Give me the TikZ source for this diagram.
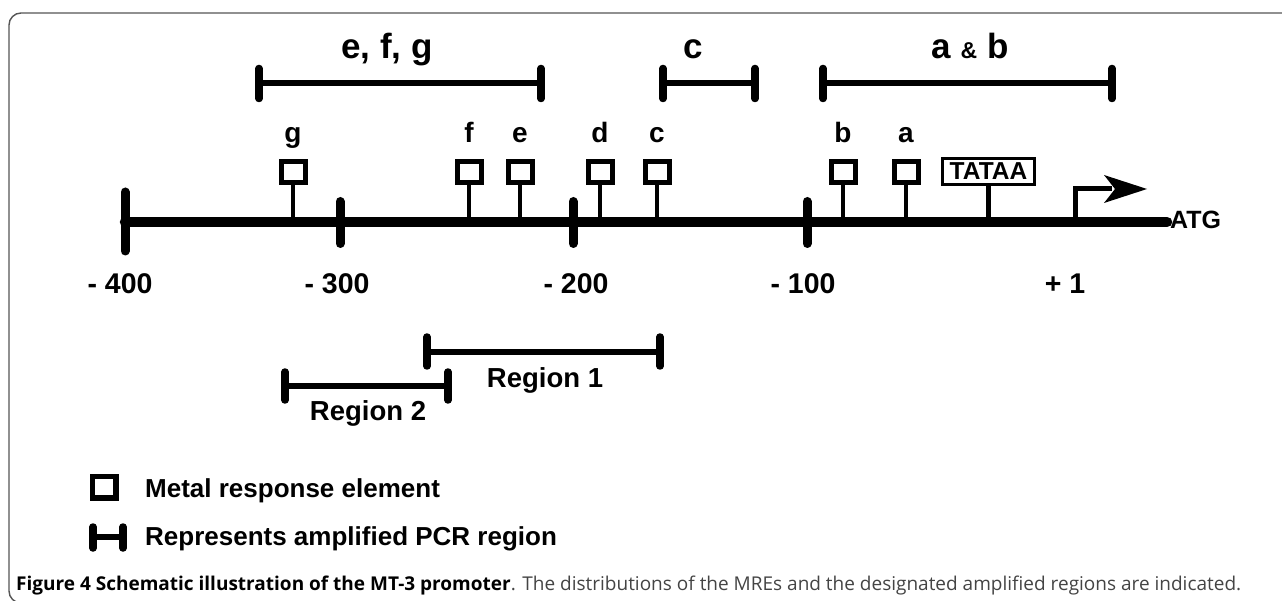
\documentclass[tikz,border=0pt]{standalone}
\usepackage{fontspec}
\setmainfont{Liberation Sans}
\newfontfamily\capfont{Open Sans}
\definecolor{framegray}{HTML}{555555}
\definecolor{captext}{HTML}{444444}

\begin{document}
\begin{tikzpicture}[x=1pt,y=-1pt,
  numlbl/.style={font=\bfseries\fontsize{28.5}{28.5}\selectfont, inner sep=0pt, anchor=base},
  reglbl/.style={font=\bfseries\fontsize{27.5}{27.5}\selectfont, inner sep=0pt, anchor=base},
  mrelbl/.style={font=\bfseries\fontsize{28}{28}\selectfont, inner sep=0pt, anchor=base},
  toplbl/.style={font=\bfseries\fontsize{35}{35}\selectfont, inner sep=0pt, anchor=base},
  leglbl/.style={font=\bfseries\fontsize{26}{26}\selectfont, inner sep=0pt, anchor=base west},
  dna/.style={line width=10.5pt, line cap=round},
  majortick/.style={line width=9pt, line cap=round},
  spanbar/.style={line width=6pt},
  spanend/.style={line width=7.5pt, line cap=round},
  mrebox/.style={draw, line width=5pt, minimum width=24pt, minimum height=21pt, inner sep=0pt},
  stem/.style={line width=4.5pt},
]
\useasboundingbox (0,0) rectangle (1282,601);

% panel frame
\begin{scope}
  \clip (0,0) rectangle (1282,601);
  \draw[line width=1.4pt, framegray, rounded corners=12pt] (9,13) rectangle (1330,603);
\end{scope}

% promoter line with position ticks
\coordinate (dnaL) at (125,222);
\coordinate (dnaR) at (1167,222);
\draw[dna] (dnaL) -- (dnaR);
\draw[majortick] (125,192) -- (125,251);
\foreach \x in {340,573,807}
  \draw[majortick] (\x,201.5) -- (\x,243.5);

% position numbers
\node[numlbl] (p400) at (120,294) {- 400};
\node[numlbl] (p300) at (337,294) {- 300};
\node[numlbl] (p200) at (576,294) {- 200};
\node[numlbl] (p100) at (803,294) {- 100};
\node[numlbl] (p1)   at (1065,294) {+ 1};

% metal response elements
\foreach \x/\n in {293/g,469/f,520/e,600/d,657/c,843/b,906/a}{
  \node[mrebox] (mre\n) at (\x,172.5) {};
  \coordinate (base\n) at (\x,222);
  \draw[stem] (mre\n.south) -- (base\n);
  \node[mrelbl] (lbl\n) at (\x,143) {\n};
}

% TATA box
\node[draw, line width=3pt, minimum width=92pt, minimum height=26pt, inner sep=0pt,
      font=\bfseries\fontsize{24.5}{24.5}\selectfont] (tata) at (988.5,171.5) {TATAA};
\coordinate (tataBase) at (988.5,222);
\draw[stem] (tata.south) -- (tataBase);

% transcription start arrow
\coordinate (tssBase) at (1075,222);
\coordinate (tssBend) at (1075,189);
\coordinate (tssHead) at (1112,189);
\draw[line width=5pt, line join=miter] (tssBase) -- (tssBend) -- (tssHead);
\fill (1147,189) -- (1104,175) -- (1115,189) -- (1104,203) -- cycle;
\node[font=\bfseries\fontsize{25}{25}\selectfont, inner sep=0pt, anchor=base west] (atg) at (1170,229) {ATG};

% amplified regions above the line
\foreach \a/\b/\nm in {259/541/efg,663/755/c,823/1112/ab}{
  \coordinate (\nm L) at (\a,83);
  \coordinate (\nm R) at (\b,83);
  \draw[spanbar] (\nm L) -- (\nm R);
  \draw[spanend] (\a,68.5) -- (\a,98.5);
  \draw[spanend] (\b,68.5) -- (\b,98.5);
}
\node[toplbl] (tefg) at (387,59) {e, f, g};
\node[toplbl] (tc) at (693,59) {c};
\node[toplbl] (tab) at (970,59) {a {\fontsize{23}{23}\selectfont\&} b};

% PCR regions below the line
\coordinate (r1L) at (427,352);
\coordinate (r1R) at (660,352);
\draw[spanbar] (r1L) -- (r1R);
\draw[spanend] (427,337) -- (427,366);
\draw[spanend] (660,337) -- (660,366);
\node[reglbl] (r1) at (545,388) {Region 1};

\coordinate (r2L) at (285,386);
\coordinate (r2R) at (448,386);
\draw[spanbar] (r2L) -- (r2R);
\draw[spanend] (285,372) -- (285,400);
\draw[spanend] (448,372) -- (448,400);
\node[reglbl] (r2) at (368,420) {Region 2};

% legend
\node[draw, line width=5.5pt, minimum width=23.5pt, minimum height=21.5pt, inner sep=0pt] (legbox) at (104,487) {};
\node[leglbl] (legmre) at (145,497) {Metal response element};
\coordinate (legL) at (93,537);
\coordinate (legR) at (123,537);
\draw[spanbar] (legL) -- (legR);
\draw[spanend] (93,527) -- (93,548);
\draw[spanend] (123,527) -- (123,548);
\node[leglbl] (legpcr) at (145,545) {Represents amplified PCR region};

% caption
\node[inner sep=0pt, anchor=base west, font=\capfont\fontsize{19}{19}\selectfont, text=captext] (caption) at (16,590)
  {\textcolor{black}{\bfseries Figure 4 Schematic illustration of the MT-3 promoter}. The distributions of the MREs and the designated amplified regions are indicated.};
\end{tikzpicture}
\end{document}
